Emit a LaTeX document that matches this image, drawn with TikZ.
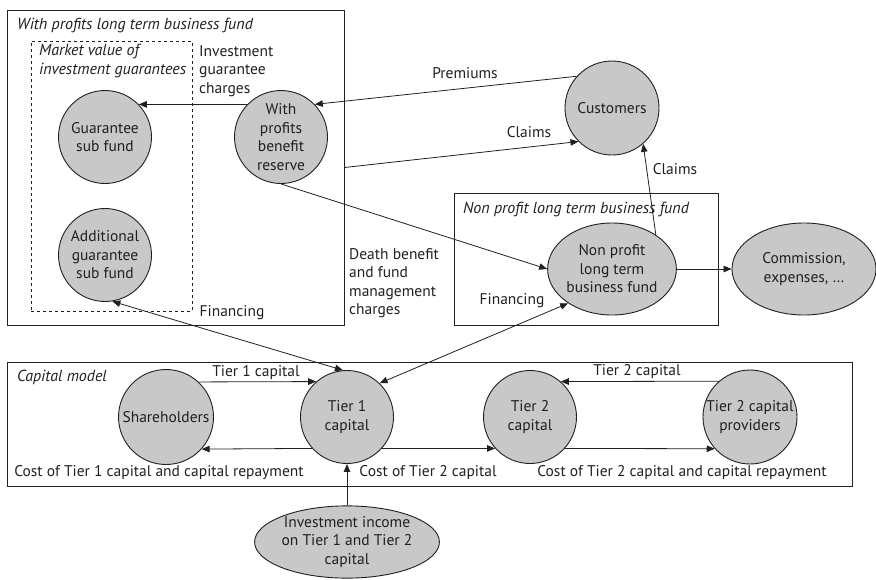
\documentclass[tikz,border=0pt]{standalone}
\usepackage{fontspec}
\setmainfont{PT Sans}
\usetikzlibrary{arrows.meta,shapes.geometric}
\definecolor{inkc}{RGB}{35,31,32}
\definecolor{fundfill}{RGB}{200,200,200}
\begin{document}
\begin{tikzpicture}[x=1pt,y=-1pt,
  every node/.style={text=inkc,font=\fontsize{15.5}{18.5}\selectfont},
  fund/.style={circle,draw=inkc,line width=0.9pt,fill=fundfill,inner sep=0pt,
    minimum size=93pt,align=center},
  oval/.style={ellipse,draw=inkc,line width=0.9pt,fill=fundfill,inner sep=0pt,
    align=center},
  frame/.style={rectangle,draw=inkc,line width=0.8pt,inner sep=0pt},
  caption/.style={font=\fontsize{16}{18.5}\selectfont\itshape,anchor=west,inner sep=0pt},
  lbl/.style={inner sep=0pt,align=left},
  flow/.style={draw=inkc,line width=0.8pt,-{Triangle[length=8pt,width=6.5pt]}},
  twoway/.style={draw=inkc,line width=0.8pt,{Triangle[length=8pt,width=6.5pt]}-{Triangle[length=8pt,width=6.5pt]}}
]
\useasboundingbox (0,0) rectangle (876,579);

% boxes
\node[frame,minimum width=337pt,minimum height=315pt] (wpbox) at (175.5,167.5) {};
\node[frame,dashed,line width=0.7pt,minimum width=161pt,minimum height=270pt] (mvbox) at (111.5,176) {};
\node[frame,minimum width=264pt,minimum height=132pt] (npbox) at (586,259) {};
\node[frame,minimum width=845pt,minimum height=124pt] (capbox) at (429.5,424) {};

% box captions
\node[caption] (wpcap) at (17,25) {With profits long term business fund};
\node[caption,anchor=north west,align=left] (mvcap) at (39,44) {Market value of\\investment guarantees};
\node[caption] (npcap) at (463,209) {Non profit long term business fund};
\node[caption] (capcap) at (17,377) {Capital model};

% funds and parties
\node[fund] (gsf) at (105,137) {Guarantee\\sub fund};
\node[fund] (agsf) at (105,255) {Additional\\guarantee\\sub fund};
\node[fund] (wpbr) at (281,137) {With\\profits\\benefit\\reserve};
\node[fund,minimum size=94pt] (cust) at (612,108) {Customers};
\node[oval,minimum width=125pt,minimum height=92pt] (np) at (612,269) {Non profit\\long term\\business fund};
\node[oval,minimum width=144pt,minimum height=92pt] (comm) at (804,269) {Commission,\\expenses, …};
\node[fund,minimum size=95pt] (sh) at (166,417) {Shareholders};
\node[fund] (t1) at (347,417) {Tier 1\\capital};
\node[fund] (t2) at (530,417) {Tier 2\\capital};
\node[fund,minimum size=94pt] (t2p) at (750,417) {Tier 2 capital\\providers};
\node[oval,minimum width=154pt,minimum height=72pt] (inv) at (347,542) {Investment income\\on Tier 1 and Tier 2\\capital};

% flows
\draw[flow] (wpbr.136) -- (gsf.44);
\draw[flow] (cust.138) -- (wpbr.44);
\draw[flow] (wpbox.east) -- (cust.225);
\draw[flow] (wpbr.south) -- (np.west);
\draw[flow] (np.38) -- (cust.311);
\draw[flow] (np.east) -- (comm.west);
\draw[twoway] (t1.46) -- (np.218);
\draw[twoway] (agsf.279) -- (t1.95);
\draw[flow] (sh.47) -- (t1.131);
\draw[flow] (t1.222) -- (sh.318);
\draw[flow] (t1.318) -- (t2.222);
\draw[flow] (t2p.131) -- (t2.49);
\draw[flow] (t2.318) -- (t2p.222);
\draw[flow] (inv.north) -- (t1.south);

% flow labels
\node[lbl,anchor=north west] (igc) at (199,45) {Investment\\guarantee\\charges};
\node[lbl] (prem) at (465,73) {Premiums};
\node[lbl] (clm1) at (529,132) {Claims};
\node[lbl] (clm2) at (675,169) {Claims};
\node[lbl] (fin1) at (232,313) {Financing};
\node[lbl] (fin2) at (512,301) {Financing};
\node[lbl,anchor=north west] (dbf) at (349,248) {Death benefit\\and fund\\management\\charges};
\node[lbl] (t1c) at (256,373) {Tier 1 capital};
\node[lbl] (t2c) at (637,372) {Tier 2 capital};
\node[lbl] (cost1) at (159,473) {Cost of Tier 1 capital and capital repayment};
\node[lbl] (cost2) at (428,473) {Cost of Tier 2 capital};
\node[lbl] (cost3) at (682,473) {Cost of Tier 2 capital and capital repayment};
\end{tikzpicture}
\end{document}
